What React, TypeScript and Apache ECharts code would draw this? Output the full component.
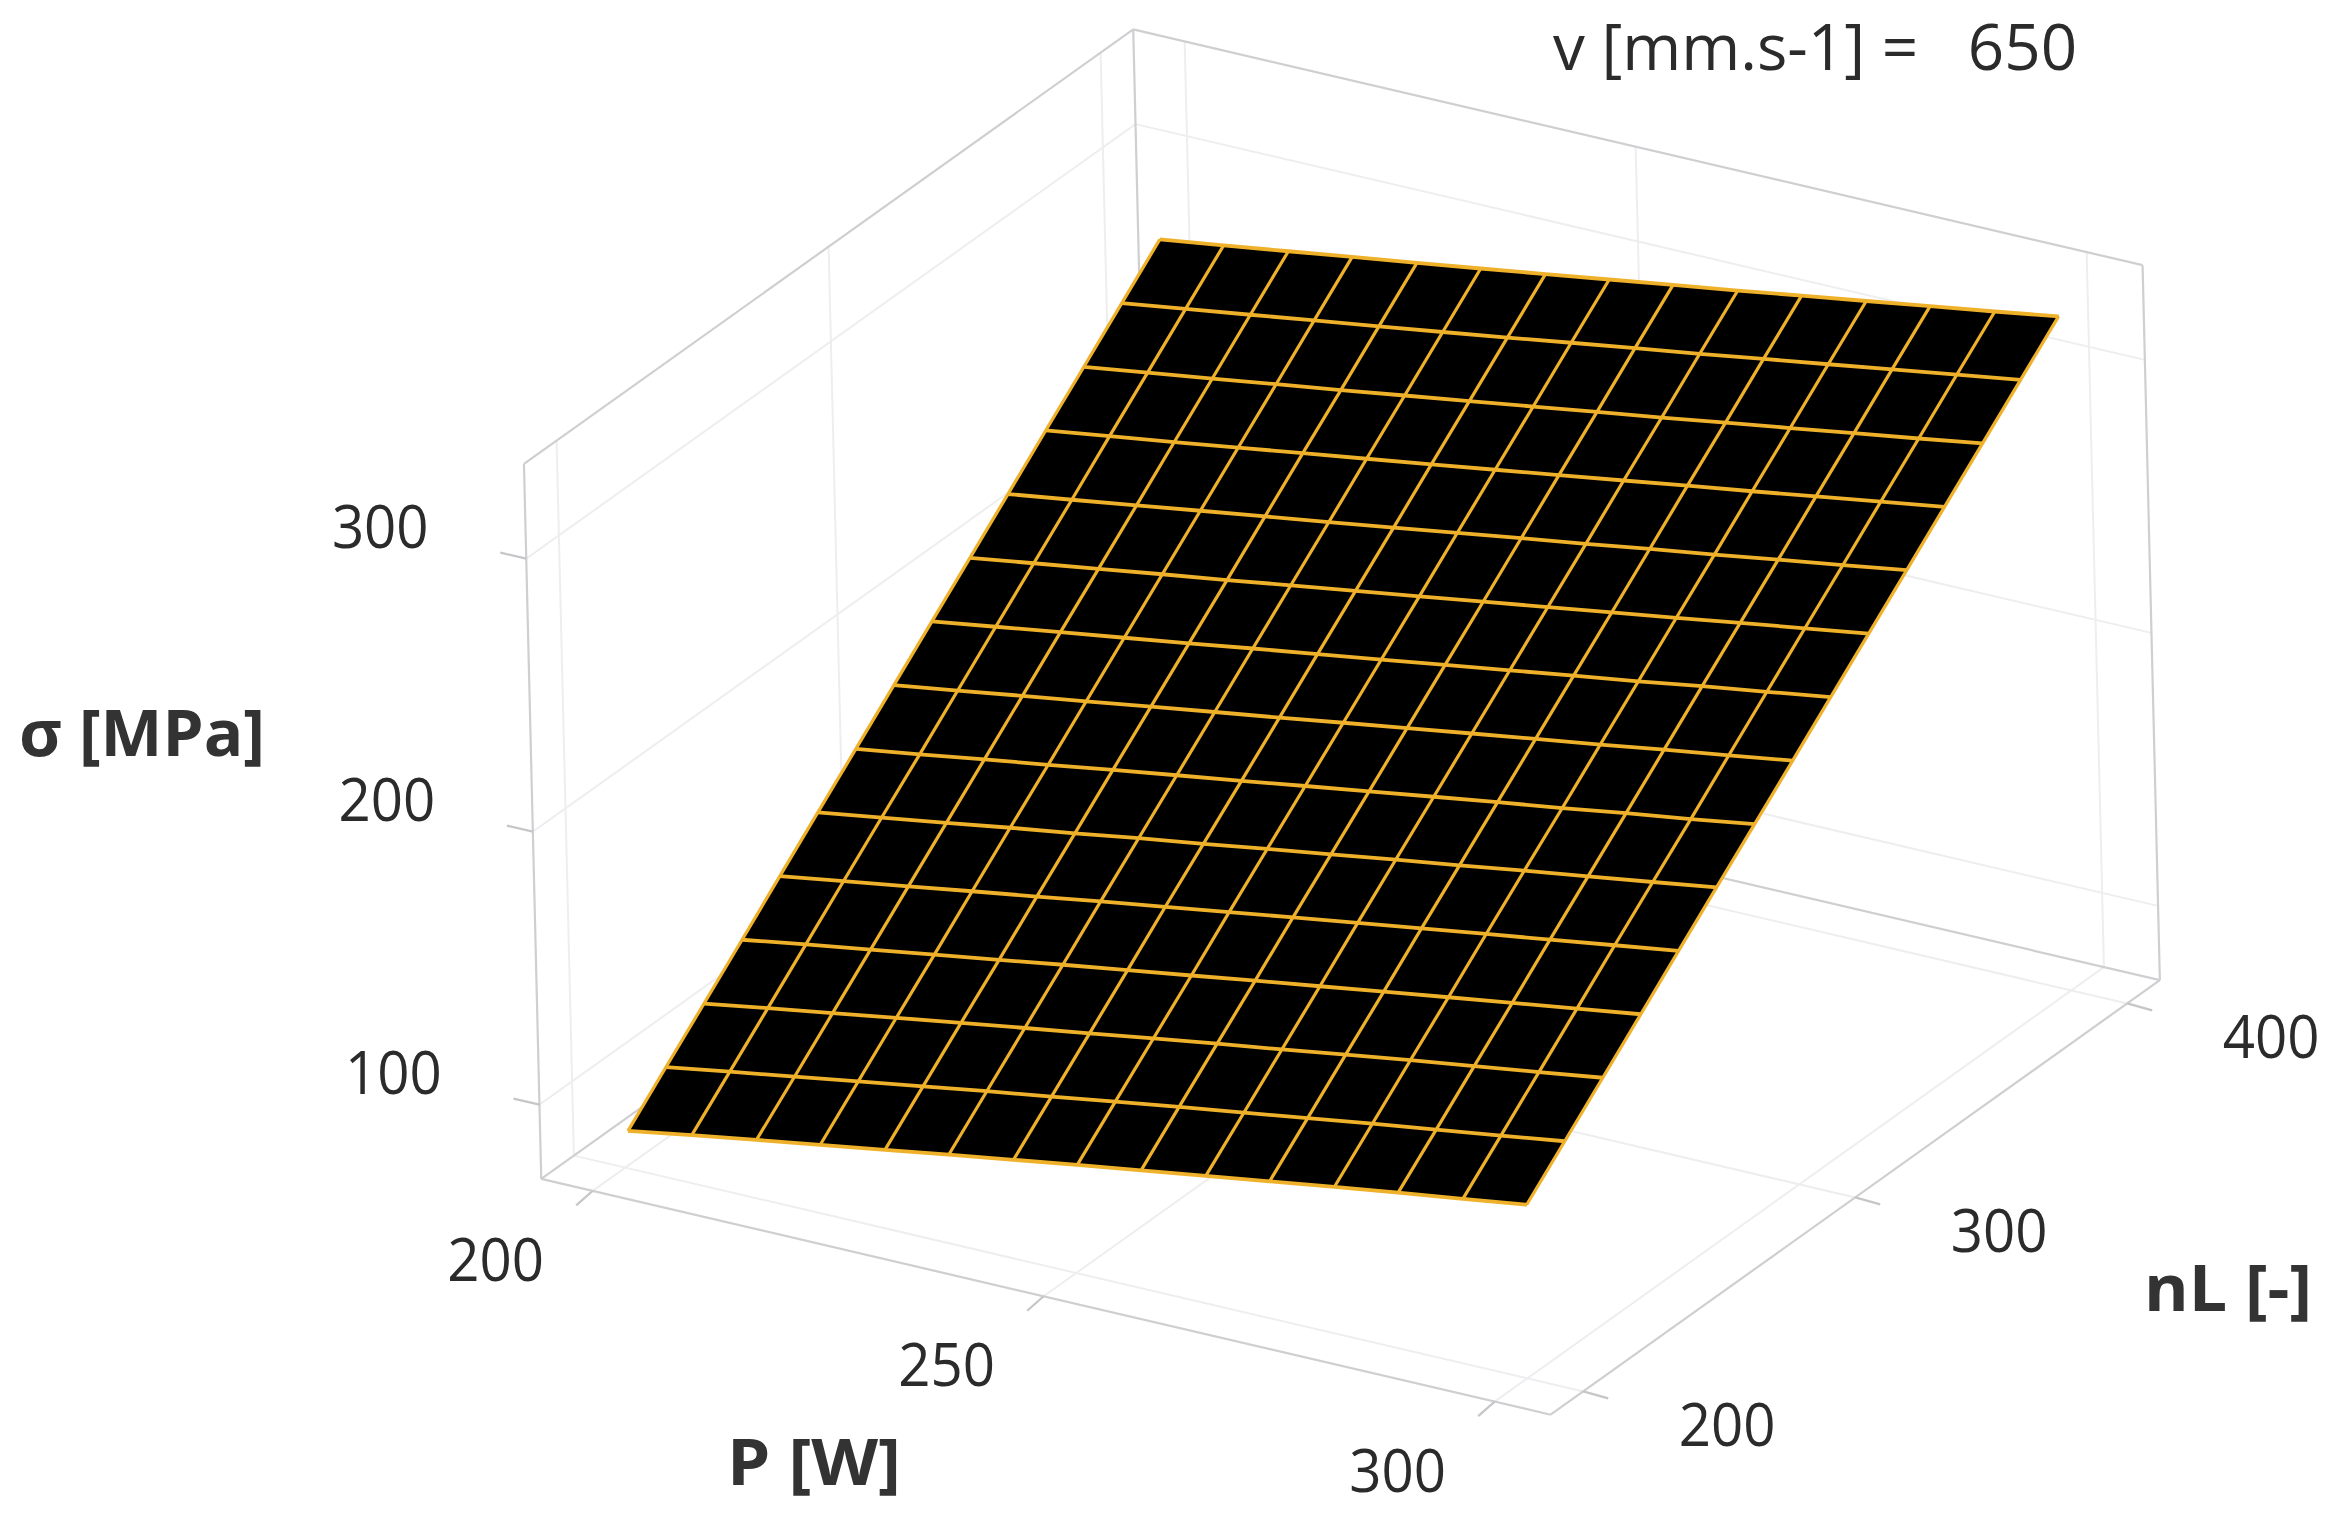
import React, { useEffect, useRef } from "react";
import * as echarts from "echarts";

// ---- data ----
const powerValues = [200.4, 207.5, 214.7, 221.8, 229.0, 236.1, 243.3, 250.4, 257.5, 264.7, 271.8, 279.0, 286.1, 293.3, 300.4];
const lineValues = [200, 214.3, 228.6, 242.9, 257.1, 271.4, 285.7, 300, 314.3, 328.6, 342.9, 357.1, 371.4, 385.7, 400];
const sigmaRows = [
  [86.6, 90.5, 94.3, 98.0, 101.7, 105.4, 109.1, 112.7, 116.2, 119.7, 123.2, 126.7, 130.1, 133.4, 136.7],
  [99.8, 103.6, 107.3, 111.1, 114.8, 118.5, 122.1, 125.7, 129.3, 132.7, 136.2, 139.7, 143.0, 146.4, 149.8],
  [112.9, 116.7, 120.4, 124.2, 127.9, 131.5, 135.1, 138.7, 142.3, 145.7, 149.3, 152.8, 156.1, 159.5, 162.9],
  [126.1, 129.9, 133.5, 137.2, 140.8, 144.5, 148.1, 151.6, 155.2, 158.7, 162.2, 165.7, 169.1, 172.6, 176.0],
  [139.3, 143.0, 146.6, 150.3, 153.9, 157.6, 161.2, 164.7, 168.3, 171.8, 175.3, 178.8, 182.2, 185.7, 189.1],
  [152.5, 156.1, 159.7, 163.4, 166.9, 170.6, 174.1, 177.7, 181.2, 184.8, 188.2, 191.8, 195.2, 198.7, 202.2],
  [165.6, 169.1, 172.8, 176.3, 180.0, 183.5, 187.0, 190.6, 194.1, 197.7, 201.2, 204.6, 208.2, 211.6, 215.2],
  [178.8, 182.3, 185.9, 189.4, 193.0, 196.5, 200.0, 203.6, 207.1, 210.7, 214.2, 217.7, 221.3, 224.8, 228.3],
  [192.0, 195.5, 199.1, 202.5, 206.0, 209.6, 213.1, 216.6, 220.1, 223.7, 227.2, 230.7, 234.4, 237.9, 241.4],
  [205.1, 208.6, 212.1, 215.6, 219.0, 222.6, 226.1, 229.6, 233.1, 236.7, 240.2, 243.8, 247.4, 251.0, 254.5],
  [218.3, 221.7, 225.2, 228.7, 232.2, 235.6, 239.1, 242.7, 246.2, 249.7, 253.3, 256.8, 260.4, 264.0, 267.6],
  [231.5, 234.9, 238.3, 241.7, 245.3, 248.7, 252.2, 255.7, 259.2, 262.8, 266.4, 269.9, 273.5, 277.1, 280.7],
  [244.6, 248.0, 251.4, 254.8, 258.2, 261.7, 265.2, 268.7, 272.2, 275.7, 279.3, 282.9, 286.5, 290.1, 293.8],
  [257.8, 261.2, 264.6, 268.0, 271.4, 274.8, 278.3, 281.9, 285.4, 288.9, 292.5, 296.1, 299.7, 303.3, 306.9],
  [271.0, 274.3, 277.7, 281.1, 284.5, 287.9, 291.4, 294.9, 298.4, 301.9, 305.5, 309.1, 312.7, 316.3, 320.0],
];
const powerTicks = [200, 250, 300];
const lineTicks = [200, 300, 400];
const sigmaTicks = [100, 200, 300];
const powerRange = [194.3, 306.2];
const lineRange = [188, 412];
const sigmaRange = [72.8, 334.7];
const titleText = "v [mm.s-1] =   650";

// ---- the view: 3D values to plane coordinates of the hidden axes ----
const WIDTH = 2341;
const HEIGHT = 1521;
function project(p: number, n: number, s: number): [number, number] {
  return [
    623.5 + (p - 200) * 9.02 + (n - 200) * 2.72 - (s - 100) * 0.066,
    1093.4 + (p - 200) * 2.107 - (n - 200) * 1.94 - (s - 100) * 2.73,
  ];
}

type V3 = [number, number, number];
const [pA, pB] = powerRange;
const [nA, nB] = lineRange;
const [sA, sB] = sigmaRange;

const gridSegments: [V3, V3][] = [];
powerTicks.forEach((p) => {
  gridSegments.push([[p, nA, sA], [p, nB, sA]]);
  gridSegments.push([[p, nB, sA], [p, nB, sB]]);
});
lineTicks.forEach((n) => {
  gridSegments.push([[pA, n, sA], [pB, n, sA]]);
  gridSegments.push([[pA, n, sA], [pA, n, sB]]);
});
sigmaTicks.forEach((s) => {
  gridSegments.push([[pA, nA, s], [pA, nB, s]]);
  gridSegments.push([[pA, nB, s], [pB, nB, s]]);
});
const edgeSegments: [V3, V3][] = [
  [[pA, nA, sA], [pA, nA, sB]],
  [[pA, nB, sA], [pA, nB, sB]],
  [[pB, nB, sA], [pB, nB, sB]],
  [[pA, nA, sB], [pA, nB, sB]],
  [[pA, nB, sB], [pB, nB, sB]],
  [[pA, nA, sA], [pB, nA, sA]],
  [[pB, nA, sA], [pB, nB, sA]],
  [[pA, nA, sA], [pA, nB, sA]],
  [[pA, nB, sA], [pB, nB, sA]],
];

type Tick = { at: V3; label: string; tick: [number, number]; text: [number, number] };
const ticks: Tick[] = [
  ...powerTicks.map((p) => ({ at: [p, nA, sA] as V3, label: String(p), tick: [-16.5, 14.5] as [number, number], text: [-97, 67] as [number, number] })),
  ...lineTicks.map((n) => ({ at: [pB, n, sA] as V3, label: String(n), tick: [25, 7] as [number, number], text: [144, 31] as [number, number] })),
  ...sigmaTicks.map((s) => ({ at: [pA, nA, s] as V3, label: String(s), tick: [-26, -6] as [number, number], text: [-146, -34] as [number, number] })),
];

const cells: V3[][] = [];
for (let j = 0; j < lineValues.length - 1; j++) {
  for (let i = 0; i < powerValues.length - 1; i++) {
    cells.push([
      [powerValues[i], lineValues[j], sigmaRows[j][i]],
      [powerValues[i + 1], lineValues[j], sigmaRows[j][i + 1]],
      [powerValues[i + 1], lineValues[j + 1], sigmaRows[j + 1][i + 1]],
      [powerValues[i], lineValues[j + 1], sigmaRows[j + 1][i]],
    ]);
  }
}
const rowLines: V3[][] = lineValues.map((n, j) => powerValues.map((p, i) => [p, n, sigmaRows[j][i]] as V3));
const colLines: V3[][] = powerValues.map((p, i) => lineValues.map((n, j) => [p, n, sigmaRows[j][i]] as V3));

const GOLD = "#efb12a";
const TICK_FONT = '60px "Open Sans"';
const NAME_FONT = 'bold 64px "Open Sans"';
const TEXT = "#2b2b2b";

function lineSeries(name: string, items: V3[][], stroke: string, width: number) {
  return {
    name,
    type: "custom",
    coordinateSystem: "cartesian2d",
    silent: true,
    data: items.map((it) => project(...it[0])),
    renderItem: (params: any, api: any) => {
      const pts = items[params.dataIndex].map((v) => api.coord(project(...v)));
      return { type: "polyline", shape: { points: pts }, style: { stroke, fill: "none", lineWidth: width } };
    },
  };
}

function nameText(text: string, x: number, y: number, scaleX: number, font: string, color: string, align = "center") {
  return {
    type: "text",
    x,
    y,
    scaleX,
    silent: true,
    style: { text, x: 0, y: 0, font, fill: color, align, verticalAlign: "middle" },
  };
}

export default function App() {
  const ref = useRef<HTMLDivElement>(null);
  useEffect(() => {
    document.body.style.margin = "0";
    const chart = echarts.init(ref.current!, undefined, { renderer: "svg" });
    chart.setOption({
      animation: false,
      backgroundColor: "#ffffff",
      grid: { left: 0, right: 0, top: 0, bottom: 0 },
      xAxis: { type: "value", min: 0, max: WIDTH, show: false },
      yAxis: { type: "value", min: 0, max: HEIGHT, inverse: true, show: false },
      graphic: [
        nameText(titleText, 1553, 45, 0.996, '64px "Open Sans"', TEXT, "left"),
        nameText("σ [MPa]", 142, 731, 1.025, NAME_FONT, "#333333"),
        nameText("P [W]", 814, 1460, 1.08, NAME_FONT, "#333333"),
        nameText("nL [-]", 2228, 1286, 1.064, NAME_FONT, "#333333"),
      ],
      series: [
        lineSeries("grid", gridSegments, "#eeeef0", 2),
        lineSeries("edges", edgeSegments, "#cfcfd2", 2.2),
        {
          name: "ticks",
          type: "custom",
          coordinateSystem: "cartesian2d",
          silent: true,
          data: ticks.map((t) => project(...t.at)),
          renderItem: (params: any, api: any) => {
            const t = ticks[params.dataIndex];
            const [x, y] = api.coord(project(...t.at));
            return {
              type: "group",
              children: [
                {
                  type: "line",
                  shape: { x1: x, y1: y, x2: x + t.tick[0], y2: y + t.tick[1] },
                  style: { stroke: "#c6c6c9", lineWidth: 2.2 },
                },
                {
                  type: "text",
                  x: x + t.text[0],
                  y: y + t.text[1],
                  scaleX: 0.94,
                  style: { text: t.label, x: 0, y: 0, font: TICK_FONT, fill: TEXT, align: "center", verticalAlign: "middle" },
                },
              ],
            };
          },
        },
        {
          name: "surface",
          type: "custom",
          coordinateSystem: "cartesian2d",
          silent: true,
          data: cells.map((c) => project(...c[0])),
          renderItem: (params: any, api: any) => ({
            type: "polygon",
            shape: { points: cells[params.dataIndex].map((v) => api.coord(project(...v))) },
            style: { fill: "#000000", stroke: "#000000", lineWidth: 0.6 },
          }),
        },
        lineSeries("rows", rowLines, GOLD, 3.8),
        lineSeries("columns", colLines, GOLD, 3.2),
      ],
    });
    return () => chart.dispose();
  }, []);
  return <div ref={ref} style={{ position: "absolute", left: 0, top: 0, width: WIDTH, height: HEIGHT }} />;
}
